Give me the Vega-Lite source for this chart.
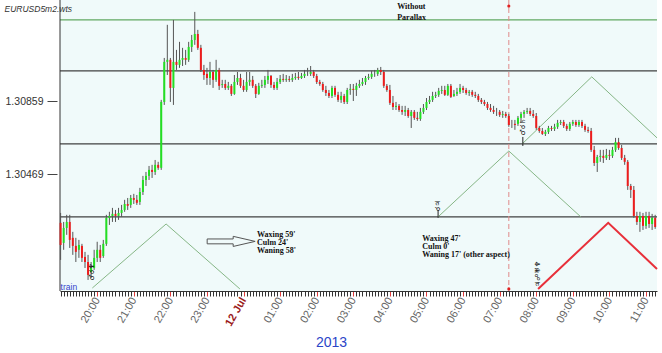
{
"$schema":"https://vega.github.io/schema/vega-lite/v6.json",
"width":597,"height":291,"autosize":"none",
"padding":{"left":60,"top":0,"right":5,"bottom":62},
"background":"white",
"config":{"view":{"fill":"#f0fafa","stroke":null},"font":"Liberation Sans"},
"datasets":{
"candles":[
{"t":"2013-07-11T19:00","o":1.30208,"h":1.30261,"l":1.30010,"c":1.30090},
{"t":"2013-07-11T19:05","o":1.30101,"h":1.30213,"l":1.30064,"c":1.30181},
{"t":"2013-07-11T19:10","o":1.30181,"h":1.30251,"l":1.30144,"c":1.30213},
{"t":"2013-07-11T19:15","o":1.30213,"h":1.30251,"l":1.30074,"c":1.30117},
{"t":"2013-07-11T19:20","o":1.30128,"h":1.30160,"l":1.30037,"c":1.30085},
{"t":"2013-07-11T19:25","o":1.30085,"h":1.30128,"l":1.29999,"c":1.30053},
{"t":"2013-07-11T19:30","o":1.30064,"h":1.30117,"l":1.30021,"c":1.30090},
{"t":"2013-07-11T19:35","o":1.30085,"h":1.30096,"l":1.29999,"c":1.30021},
{"t":"2013-07-11T19:40","o":1.30026,"h":1.30053,"l":1.29967,"c":1.29999},
{"t":"2013-07-11T19:45","o":1.29999,"h":1.30037,"l":1.29903,"c":1.29930},
{"t":"2013-07-11T19:50","o":1.29946,"h":1.29999,"l":1.29914,"c":1.29967},
{"t":"2013-07-11T19:55","o":1.29967,"h":1.30064,"l":1.29957,"c":1.30021},
{"t":"2013-07-11T20:00","o":1.30021,"h":1.30107,"l":1.29999,"c":1.30064},
{"t":"2013-07-11T20:05","o":1.30064,"h":1.30090,"l":1.29999,"c":1.30021},
{"t":"2013-07-11T20:10","o":1.30031,"h":1.30117,"l":1.30021,"c":1.30096},
{"t":"2013-07-11T20:15","o":1.30096,"h":1.30251,"l":1.30085,"c":1.30235},
{"t":"2013-07-11T20:20","o":1.30235,"h":1.30267,"l":1.30197,"c":1.30245},
{"t":"2013-07-11T20:25","o":1.30245,"h":1.30288,"l":1.30213,"c":1.30256},
{"t":"2013-07-11T20:30","o":1.30256,"h":1.30277,"l":1.30213,"c":1.30245},
{"t":"2013-07-11T20:35","o":1.30245,"h":1.30288,"l":1.30224,"c":1.30261},
{"t":"2013-07-11T20:40","o":1.30261,"h":1.30304,"l":1.30240,"c":1.30277},
{"t":"2013-07-11T20:45","o":1.30277,"h":1.30331,"l":1.30267,"c":1.30309},
{"t":"2013-07-11T20:50","o":1.30309,"h":1.30341,"l":1.30277,"c":1.30299},
{"t":"2013-07-11T20:55","o":1.30304,"h":1.30357,"l":1.30288,"c":1.30341},
{"t":"2013-07-11T21:00","o":1.30341,"h":1.30363,"l":1.30309,"c":1.30331},
{"t":"2013-07-11T21:05","o":1.30331,"h":1.30357,"l":1.30304,"c":1.30315},
{"t":"2013-07-11T21:10","o":1.30320,"h":1.30395,"l":1.30304,"c":1.30373},
{"t":"2013-07-11T21:15","o":1.30373,"h":1.30459,"l":1.30357,"c":1.30437},
{"t":"2013-07-11T21:20","o":1.30437,"h":1.30480,"l":1.30405,"c":1.30459},
{"t":"2013-07-11T21:25","o":1.30459,"h":1.30512,"l":1.30437,"c":1.30491},
{"t":"2013-07-11T21:30","o":1.30491,"h":1.30518,"l":1.30448,"c":1.30480},
{"t":"2013-07-11T21:35","o":1.30480,"h":1.30544,"l":1.30464,"c":1.30518},
{"t":"2013-07-11T21:40","o":1.30518,"h":1.30534,"l":1.30491,"c":1.30502},
{"t":"2013-07-11T21:45","o":1.30502,"h":1.30865,"l":1.30491,"c":1.30854},
{"t":"2013-07-11T21:50","o":1.30854,"h":1.31089,"l":1.30838,"c":1.31068},
{"t":"2013-07-11T21:55","o":1.31068,"h":1.31266,"l":1.30998,"c":1.31079},
{"t":"2013-07-11T22:00","o":1.31079,"h":1.31089,"l":1.30854,"c":1.30929},
{"t":"2013-07-11T22:05","o":1.30929,"h":1.31292,"l":1.30838,"c":1.31068},
{"t":"2013-07-11T22:10","o":1.31068,"h":1.31132,"l":1.31025,"c":1.31052},
{"t":"2013-07-11T22:15","o":1.31052,"h":1.31175,"l":1.31036,"c":1.31079},
{"t":"2013-07-11T22:20","o":1.31079,"h":1.31143,"l":1.31046,"c":1.31089},
{"t":"2013-07-11T22:25","o":1.31089,"h":1.31132,"l":1.31052,"c":1.31079},
{"t":"2013-07-11T22:30","o":1.31079,"h":1.31175,"l":1.31068,"c":1.31148},
{"t":"2013-07-11T22:35","o":1.31148,"h":1.31212,"l":1.31121,"c":1.31185},
{"t":"2013-07-11T22:40","o":1.31185,"h":1.31335,"l":1.31159,"c":1.31217},
{"t":"2013-07-11T22:45","o":1.31217,"h":1.31239,"l":1.31132,"c":1.31143},
{"t":"2013-07-11T22:50","o":1.31143,"h":1.31159,"l":1.31014,"c":1.31025},
{"t":"2013-07-11T22:55","o":1.31025,"h":1.31052,"l":1.30972,"c":1.30998},
{"t":"2013-07-11T23:00","o":1.31004,"h":1.31036,"l":1.30945,"c":1.30982},
{"t":"2013-07-11T23:05","o":1.30982,"h":1.31068,"l":1.30945,"c":1.31014},
{"t":"2013-07-11T23:10","o":1.31014,"h":1.31025,"l":1.30929,"c":1.30972},
{"t":"2013-07-11T23:15","o":1.30972,"h":1.31079,"l":1.30961,"c":1.31025},
{"t":"2013-07-11T23:20","o":1.31025,"h":1.31036,"l":1.30918,"c":1.30940},
{"t":"2013-07-11T23:25","o":1.30945,"h":1.30972,"l":1.30929,"c":1.30950},
{"t":"2013-07-11T23:30","o":1.30950,"h":1.30972,"l":1.30918,"c":1.30929},
{"t":"2013-07-11T23:35","o":1.30929,"h":1.30961,"l":1.30918,"c":1.30940},
{"t":"2013-07-11T23:40","o":1.30940,"h":1.30950,"l":1.30886,"c":1.30897},
{"t":"2013-07-11T23:45","o":1.30897,"h":1.30998,"l":1.30892,"c":1.30961},
{"t":"2013-07-11T23:50","o":1.30961,"h":1.31014,"l":1.30945,"c":1.30982},
{"t":"2013-07-11T23:55","o":1.30982,"h":1.31004,"l":1.30929,"c":1.30940},
{"t":"2013-07-12T00:00","o":1.30940,"h":1.30972,"l":1.30908,"c":1.30918},
{"t":"2013-07-12T00:05","o":1.30918,"h":1.31014,"l":1.30908,"c":1.30961},
{"t":"2013-07-12T00:10","o":1.30961,"h":1.31014,"l":1.30940,"c":1.30972},
{"t":"2013-07-12T00:15","o":1.30972,"h":1.30993,"l":1.30929,"c":1.30940},
{"t":"2013-07-12T00:20","o":1.30940,"h":1.30950,"l":1.30875,"c":1.30897},
{"t":"2013-07-12T00:25","o":1.30897,"h":1.30956,"l":1.30892,"c":1.30940},
{"t":"2013-07-12T00:30","o":1.30940,"h":1.30972,"l":1.30929,"c":1.30945},
{"t":"2013-07-12T00:35","o":1.30945,"h":1.30993,"l":1.30929,"c":1.30972},
{"t":"2013-07-12T00:40","o":1.30972,"h":1.31025,"l":1.30950,"c":1.30993},
{"t":"2013-07-12T00:45","o":1.30993,"h":1.30998,"l":1.30929,"c":1.30945},
{"t":"2013-07-12T00:50","o":1.30945,"h":1.30961,"l":1.30918,"c":1.30929},
{"t":"2013-07-12T00:55","o":1.30929,"h":1.30982,"l":1.30918,"c":1.30961},
{"t":"2013-07-12T01:00","o":1.30961,"h":1.30998,"l":1.30950,"c":1.30977},
{"t":"2013-07-12T01:05","o":1.30977,"h":1.31004,"l":1.30961,"c":1.30972},
{"t":"2013-07-12T01:10","o":1.30972,"h":1.30998,"l":1.30961,"c":1.30977},
{"t":"2013-07-12T01:15","o":1.30977,"h":1.30993,"l":1.30961,"c":1.30972},
{"t":"2013-07-12T01:20","o":1.30972,"h":1.31004,"l":1.30961,"c":1.30982},
{"t":"2013-07-12T01:25","o":1.30982,"h":1.31009,"l":1.30972,"c":1.30988},
{"t":"2013-07-12T01:30","o":1.30988,"h":1.31014,"l":1.30972,"c":1.30982},
{"t":"2013-07-12T01:35","o":1.30982,"h":1.31009,"l":1.30977,"c":1.30993},
{"t":"2013-07-12T01:40","o":1.30993,"h":1.31025,"l":1.30982,"c":1.31004},
{"t":"2013-07-12T01:45","o":1.31004,"h":1.31036,"l":1.30993,"c":1.31004},
{"t":"2013-07-12T01:50","o":1.31004,"h":1.31046,"l":1.30993,"c":1.31014},
{"t":"2013-07-12T01:55","o":1.31014,"h":1.31025,"l":1.30982,"c":1.30993},
{"t":"2013-07-12T02:00","o":1.30993,"h":1.31004,"l":1.30950,"c":1.30961},
{"t":"2013-07-12T02:05","o":1.30961,"h":1.30972,"l":1.30940,"c":1.30950},
{"t":"2013-07-12T02:10","o":1.30950,"h":1.30961,"l":1.30908,"c":1.30918},
{"t":"2013-07-12T02:15","o":1.30918,"h":1.30940,"l":1.30886,"c":1.30902},
{"t":"2013-07-12T02:20","o":1.30902,"h":1.30918,"l":1.30875,"c":1.30886},
{"t":"2013-07-12T02:25","o":1.30886,"h":1.30940,"l":1.30875,"c":1.30929},
{"t":"2013-07-12T02:30","o":1.30929,"h":1.30940,"l":1.30881,"c":1.30892},
{"t":"2013-07-12T02:35","o":1.30892,"h":1.30908,"l":1.30854,"c":1.30865},
{"t":"2013-07-12T02:40","o":1.30865,"h":1.30908,"l":1.30849,"c":1.30886},
{"t":"2013-07-12T02:45","o":1.30886,"h":1.30897,"l":1.30843,"c":1.30854},
{"t":"2013-07-12T02:50","o":1.30854,"h":1.30929,"l":1.30843,"c":1.30918},
{"t":"2013-07-12T02:55","o":1.30918,"h":1.30950,"l":1.30892,"c":1.30924},
{"t":"2013-07-12T03:00","o":1.30924,"h":1.30950,"l":1.30859,"c":1.30918},
{"t":"2013-07-12T03:05","o":1.30918,"h":1.30956,"l":1.30886,"c":1.30940},
{"t":"2013-07-12T03:10","o":1.30940,"h":1.30972,"l":1.30929,"c":1.30950},
{"t":"2013-07-12T03:15","o":1.30950,"h":1.30982,"l":1.30940,"c":1.30961},
{"t":"2013-07-12T03:20","o":1.30961,"h":1.30993,"l":1.30945,"c":1.30982},
{"t":"2013-07-12T03:25","o":1.30982,"h":1.31004,"l":1.30972,"c":1.30988},
{"t":"2013-07-12T03:30","o":1.30988,"h":1.31020,"l":1.30977,"c":1.31004},
{"t":"2013-07-12T03:35","o":1.31004,"h":1.31025,"l":1.30988,"c":1.31004},
{"t":"2013-07-12T03:40","o":1.31004,"h":1.31036,"l":1.30993,"c":1.31025},
{"t":"2013-07-12T03:45","o":1.31025,"h":1.31041,"l":1.30998,"c":1.31014},
{"t":"2013-07-12T03:50","o":1.31014,"h":1.31025,"l":1.30929,"c":1.30940},
{"t":"2013-07-12T03:55","o":1.30940,"h":1.30950,"l":1.30908,"c":1.30918},
{"t":"2013-07-12T04:00","o":1.30918,"h":1.30945,"l":1.30838,"c":1.30849},
{"t":"2013-07-12T04:05","o":1.30849,"h":1.30886,"l":1.30811,"c":1.30827},
{"t":"2013-07-12T04:10","o":1.30827,"h":1.30854,"l":1.30811,"c":1.30833},
{"t":"2013-07-12T04:15","o":1.30833,"h":1.30843,"l":1.30801,"c":1.30811},
{"t":"2013-07-12T04:20","o":1.30811,"h":1.30833,"l":1.30785,"c":1.30801},
{"t":"2013-07-12T04:25","o":1.30801,"h":1.30833,"l":1.30779,"c":1.30811},
{"t":"2013-07-12T04:30","o":1.30811,"h":1.30822,"l":1.30769,"c":1.30779},
{"t":"2013-07-12T04:35","o":1.30779,"h":1.30811,"l":1.30715,"c":1.30801},
{"t":"2013-07-12T04:40","o":1.30801,"h":1.30811,"l":1.30758,"c":1.30769},
{"t":"2013-07-12T04:45","o":1.30769,"h":1.30801,"l":1.30753,"c":1.30763},
{"t":"2013-07-12T04:50","o":1.30763,"h":1.30822,"l":1.30753,"c":1.30801},
{"t":"2013-07-12T04:55","o":1.30801,"h":1.30843,"l":1.30790,"c":1.30822},
{"t":"2013-07-12T05:00","o":1.30822,"h":1.30875,"l":1.30811,"c":1.30854},
{"t":"2013-07-12T05:05","o":1.30854,"h":1.30886,"l":1.30843,"c":1.30865},
{"t":"2013-07-12T05:10","o":1.30865,"h":1.30908,"l":1.30854,"c":1.30886},
{"t":"2013-07-12T05:15","o":1.30886,"h":1.30908,"l":1.30875,"c":1.30892},
{"t":"2013-07-12T05:20","o":1.30892,"h":1.30929,"l":1.30881,"c":1.30913},
{"t":"2013-07-12T05:25","o":1.30913,"h":1.30940,"l":1.30897,"c":1.30918},
{"t":"2013-07-12T05:30","o":1.30918,"h":1.30940,"l":1.30886,"c":1.30892},
{"t":"2013-07-12T05:35","o":1.30892,"h":1.30950,"l":1.30886,"c":1.30940},
{"t":"2013-07-12T05:40","o":1.30940,"h":1.30950,"l":1.30875,"c":1.30881},
{"t":"2013-07-12T05:45","o":1.30886,"h":1.30918,"l":1.30881,"c":1.30897},
{"t":"2013-07-12T05:50","o":1.30897,"h":1.30929,"l":1.30886,"c":1.30908},
{"t":"2013-07-12T05:55","o":1.30908,"h":1.30950,"l":1.30897,"c":1.30929},
{"t":"2013-07-12T06:00","o":1.30929,"h":1.30940,"l":1.30902,"c":1.30918},
{"t":"2013-07-12T06:05","o":1.30918,"h":1.30929,"l":1.30892,"c":1.30902},
{"t":"2013-07-12T06:10","o":1.30902,"h":1.30918,"l":1.30886,"c":1.30908},
{"t":"2013-07-12T06:15","o":1.30908,"h":1.30918,"l":1.30881,"c":1.30892},
{"t":"2013-07-12T06:20","o":1.30892,"h":1.30908,"l":1.30875,"c":1.30886},
{"t":"2013-07-12T06:25","o":1.30886,"h":1.30897,"l":1.30854,"c":1.30865},
{"t":"2013-07-12T06:30","o":1.30865,"h":1.30875,"l":1.30843,"c":1.30854},
{"t":"2013-07-12T06:35","o":1.30854,"h":1.30865,"l":1.30833,"c":1.30843},
{"t":"2013-07-12T06:40","o":1.30843,"h":1.30854,"l":1.30811,"c":1.30822},
{"t":"2013-07-12T06:45","o":1.30822,"h":1.30843,"l":1.30801,"c":1.30811},
{"t":"2013-07-12T06:50","o":1.30811,"h":1.30833,"l":1.30790,"c":1.30801},
{"t":"2013-07-12T06:55","o":1.30801,"h":1.30822,"l":1.30779,"c":1.30801},
{"t":"2013-07-12T07:00","o":1.30801,"h":1.30811,"l":1.30774,"c":1.30785},
{"t":"2013-07-12T07:05","o":1.30785,"h":1.30806,"l":1.30769,"c":1.30790},
{"t":"2013-07-12T07:10","o":1.30790,"h":1.30801,"l":1.30769,"c":1.30779},
{"t":"2013-07-12T07:15","o":1.30779,"h":1.30790,"l":1.30721,"c":1.30731},
{"t":"2013-07-12T07:20","o":1.30737,"h":1.30758,"l":1.30715,"c":1.30737},
{"t":"2013-07-12T07:25","o":1.30737,"h":1.30758,"l":1.30705,"c":1.30731},
{"t":"2013-07-12T07:30","o":1.30737,"h":1.30779,"l":1.30726,"c":1.30769},
{"t":"2013-07-12T07:35","o":1.30769,"h":1.30801,"l":1.30747,"c":1.30790},
{"t":"2013-07-12T07:40","o":1.30790,"h":1.30811,"l":1.30769,"c":1.30801},
{"t":"2013-07-12T07:45","o":1.30801,"h":1.30822,"l":1.30790,"c":1.30806},
{"t":"2013-07-12T07:50","o":1.30806,"h":1.30822,"l":1.30779,"c":1.30790},
{"t":"2013-07-12T07:55","o":1.30790,"h":1.30811,"l":1.30769,"c":1.30779},
{"t":"2013-07-12T08:00","o":1.30779,"h":1.30795,"l":1.30705,"c":1.30715},
{"t":"2013-07-12T08:05","o":1.30715,"h":1.30726,"l":1.30689,"c":1.30699},
{"t":"2013-07-12T08:10","o":1.30699,"h":1.30715,"l":1.30678,"c":1.30683},
{"t":"2013-07-12T08:15","o":1.30683,"h":1.30705,"l":1.30672,"c":1.30694},
{"t":"2013-07-12T08:20","o":1.30694,"h":1.30726,"l":1.30683,"c":1.30715},
{"t":"2013-07-12T08:25","o":1.30715,"h":1.30726,"l":1.30699,"c":1.30710},
{"t":"2013-07-12T08:30","o":1.30710,"h":1.30737,"l":1.30699,"c":1.30721},
{"t":"2013-07-12T08:35","o":1.30721,"h":1.30758,"l":1.30710,"c":1.30742},
{"t":"2013-07-12T08:40","o":1.30742,"h":1.30758,"l":1.30731,"c":1.30747},
{"t":"2013-07-12T08:45","o":1.30747,"h":1.30758,"l":1.30715,"c":1.30726},
{"t":"2013-07-12T08:50","o":1.30726,"h":1.30737,"l":1.30699,"c":1.30710},
{"t":"2013-07-12T08:55","o":1.30710,"h":1.30747,"l":1.30699,"c":1.30737},
{"t":"2013-07-12T09:00","o":1.30737,"h":1.30758,"l":1.30726,"c":1.30747},
{"t":"2013-07-12T09:05","o":1.30747,"h":1.30758,"l":1.30721,"c":1.30731},
{"t":"2013-07-12T09:10","o":1.30731,"h":1.30758,"l":1.30721,"c":1.30747},
{"t":"2013-07-12T09:15","o":1.30747,"h":1.30758,"l":1.30715,"c":1.30726},
{"t":"2013-07-12T09:20","o":1.30726,"h":1.30737,"l":1.30694,"c":1.30705},
{"t":"2013-07-12T09:25","o":1.30705,"h":1.30721,"l":1.30689,"c":1.30699},
{"t":"2013-07-12T09:30","o":1.30699,"h":1.30715,"l":1.30587,"c":1.30598},
{"t":"2013-07-12T09:35","o":1.30598,"h":1.30619,"l":1.30512,"c":1.30528},
{"t":"2013-07-12T09:40","o":1.30528,"h":1.30571,"l":1.30480,"c":1.30560},
{"t":"2013-07-12T09:45","o":1.30560,"h":1.30598,"l":1.30534,"c":1.30566},
{"t":"2013-07-12T09:50","o":1.30566,"h":1.30598,"l":1.30528,"c":1.30555},
{"t":"2013-07-12T09:55","o":1.30555,"h":1.30603,"l":1.30544,"c":1.30571},
{"t":"2013-07-12T10:00","o":1.30571,"h":1.30598,"l":1.30544,"c":1.30566},
{"t":"2013-07-12T10:05","o":1.30566,"h":1.30614,"l":1.30555,"c":1.30598},
{"t":"2013-07-12T10:10","o":1.30598,"h":1.30662,"l":1.30587,"c":1.30640},
{"t":"2013-07-12T10:15","o":1.30640,"h":1.30662,"l":1.30598,"c":1.30608},
{"t":"2013-07-12T10:20","o":1.30608,"h":1.30624,"l":1.30544,"c":1.30555},
{"t":"2013-07-12T10:25","o":1.30555,"h":1.30571,"l":1.30518,"c":1.30534},
{"t":"2013-07-12T10:30","o":1.30534,"h":1.30544,"l":1.30384,"c":1.30405},
{"t":"2013-07-12T10:35","o":1.30405,"h":1.30416,"l":1.30341,"c":1.30384},
{"t":"2013-07-12T10:40","o":1.30384,"h":1.30405,"l":1.30235,"c":1.30245},
{"t":"2013-07-12T10:45","o":1.30245,"h":1.30267,"l":1.30197,"c":1.30213},
{"t":"2013-07-12T10:50","o":1.30213,"h":1.30267,"l":1.30160,"c":1.30245},
{"t":"2013-07-12T10:55","o":1.30245,"h":1.30261,"l":1.30170,"c":1.30192},
{"t":"2013-07-12T11:00","o":1.30192,"h":1.30267,"l":1.30176,"c":1.30245},
{"t":"2013-07-12T11:05","o":1.30245,"h":1.30267,"l":1.30181,"c":1.30202},
{"t":"2013-07-12T11:10","o":1.30202,"h":1.30256,"l":1.30170,"c":1.30235},
{"t":"2013-07-12T11:15","o":1.30235,"h":1.30251,"l":1.30176,"c":1.30186}
],
"levels":[{"p":1.31292,"k":"a"},{"p":1.31020,"k":"b"},{"p":1.30630,"k":"b"},{"p":1.30240,"k":"b"}],
"zig":[
{"g":"z1","t":"2013-07-11T19:52","p":1.29860},{"g":"z1","t":"2013-07-11T21:53","p":1.30202},{"g":"z1","t":"2013-07-11T23:54","p":1.29855},
{"g":"z2","t":"2013-07-12T05:19","p":1.30240},{"g":"z2","t":"2013-07-12T07:15","p":1.30592},{"g":"z2","t":"2013-07-12T09:13","p":1.30240},
{"g":"z3","t":"2013-07-12T07:37","p":1.30630},{"g":"z3","t":"2013-07-12T09:31","p":1.30988},{"g":"z3","t":"2013-07-12T11:18","p":1.30662}
],
"zigr":[{"t":"2013-07-12T08:03","p":1.29855},{"t":"2013-07-12T09:58","p":1.30208},{"t":"2013-07-12T11:18","p":1.29962}],
"vline":[{"t":"2013-07-12T07:15"}],
"border":[{"t":"2013-07-11T18:59"}],
"dots":[{"t":"2013-07-12T07:15","p":1.31366},{"t":"2013-07-12T07:15","p":1.29855}],
"notes":[
{"t":"2013-07-12T04:12","p":1.31362,"s":"Without"},
{"t":"2013-07-12T04:12","p":1.31303,"s":"Parallax"},
{"t":"2013-07-12T00:22","p":1.30144,"s":"Waxing 59'"},
{"t":"2013-07-12T00:22","p":1.30101,"s":"Culm 24'"},
{"t":"2013-07-12T00:22","p":1.30058,"s":"Waning 58'"},
{"t":"2013-07-12T04:53","p":1.30122,"s":"Waxing 47'"},
{"t":"2013-07-12T04:53","p":1.30080,"s":"Culm 0'"},
{"t":"2013-07-12T04:53","p":1.30037,"s":"Waning 17' (other aspect)"}
],
"train":[{"t":"2013-07-11T19:00","p":1.29866,"s":"train"}],
"glyphs":[
{"t":"2013-07-11T19:52","p":1.29946,"s":"♂☌♆"},
{"t":"2013-07-12T05:19","p":1.30299,"s":"☌♃"},
{"t":"2013-07-12T07:38","p":1.30721,"s":"♂☌♄"},
{"t":"2013-07-12T08:03","p":1.29935,"s":"♃☍♅♆"}
],
"gticks":[
{"t":"2013-07-12T05:19","a":1.30277,"b":1.30235},
{"t":"2013-07-12T07:38","a":1.30667,"b":1.30619}
],
"arrow":[
{"n":0,"t":"2013-07-11T23:00:20","p":1.30122},
{"n":1,"t":"2013-07-11T23:43:00","p":1.30122},
{"n":2,"t":"2013-07-11T23:43:00","p":1.30136},
{"n":3,"t":"2013-07-12T00:19:00","p":1.30109},
{"n":4,"t":"2013-07-11T23:43:00","p":1.30082},
{"n":5,"t":"2013-07-11T23:43:00","p":1.30096},
{"n":6,"t":"2013-07-11T23:00:20","p":1.30096},
{"n":7,"t":"2013-07-11T23:00:20","p":1.30122}
]
},
"layer":[
{"data":{"name":"levels"},"mark":{"type":"rule","strokeWidth":1.3},
 "encoding":{"y":{"field":"p","type":"quantitative","scale":{"domain":[1.29844,1.313986],"nice":false,"zero":false},
   "axis":{"orient":"left","values":[1.30859,1.30469],"format":".5f","offset":3,"domain":false,"grid":false,"tickSize":10,"tickColor":"#444444","labelColor":"#333333","labelFontSize":10.5,"labelPadding":4,
   "title":"EURUSD5m2.wts","titleAngle":0,"titleX":-53,"titleY":8,"titleAlign":"left","titleBaseline":"middle","titleFontSize":8.5,"titleFontStyle":"italic","titleFontWeight":"normal","titleColor":"#333333"}},
  "color":{"field":"k","type":"nominal","scale":{"domain":["a","b"],"range":["#62a862","#404040"]},"legend":null}}},
{"data":{"name":"zig"},"mark":{"type":"line","strokeWidth":1,"color":"#86b686"},
 "encoding":{"x":{"field":"t","type":"temporal","scale":{"domain":["2013-07-11T18:59:00","2013-07-12T11:18:00"],"nice":false,"padding":0},
   "axis":{"orient":"bottom","tickCount":196,
   "labelExpr":"(minutes(datum.value)!=0 || hours(datum.value)==19) ? '' : (hours(datum.value)==0 ? '12 Jul' : timeFormat(datum.value,'%H:%M'))",
   "labelAngle":-60,"labelAlign":"right","labelBaseline":"middle","labelFontSize":11,"labelPadding":2,
   "labelColor":{"condition":{"test":"hours(datum.value)==0","value":"#9b1b1b"},"value":"#666666"},
   "labelFontWeight":{"condition":{"test":"hours(datum.value)==0","value":"bold"},"value":"normal"},
   "labelOverlap":false,"labelFlush":false,"labelBound":false,
   "tickSize":5,"tickColor":{"condition":{"test":"minutes(datum.value)==0 && hours(datum.value)!=19","value":"#e03c3c"},"value":"#333333"},
   "domain":true,"domainColor":"#333333","grid":false,
   "title":"2013","titleX":271,"titleY":51,"titleFontSize":14,"titleFontWeight":"normal","titleColor":"#2b45c8","titleBaseline":"middle","titleAlign":"center"}},
  "y":{"field":"p","type":"quantitative"},
  "detail":{"field":"g","type":"nominal"}}},
{"data":{"name":"zigr"},"mark":{"type":"line","strokeWidth":2,"color":"#e8303a"},
 "encoding":{"x":{"field":"t","type":"temporal"},"y":{"field":"p","type":"quantitative"}}},
{"data":{"name":"border"},"mark":{"type":"rule","color":"#333333","strokeWidth":1},
 "encoding":{"x":{"field":"t","type":"temporal"}}},
{"data":{"name":"vline"},"mark":{"type":"rule","color":"#e08a8a","strokeDash":[5,3],"strokeWidth":1},
 "encoding":{"x":{"field":"t","type":"temporal"}}},
{"data":{"name":"dots"},"mark":{"type":"point","filled":true,"color":"#e02020","size":10,"opacity":1},
 "encoding":{"x":{"field":"t","type":"temporal"},"y":{"field":"p","type":"quantitative"}}},
{"data":{"name":"candles"},"mark":{"type":"rule","color":"#555555","strokeWidth":1},
 "encoding":{"x":{"field":"t","type":"temporal"},"y":{"field":"l","type":"quantitative"},"y2":{"field":"h"}}},
{"data":{"name":"candles"},"mark":{"type":"bar","width":2},
 "encoding":{"x":{"field":"t","type":"temporal"},"y":{"field":"o","type":"quantitative"},"y2":{"field":"c"},
  "color":{"condition":[{"test":"datum.c > datum.o","value":"#22e022"},{"test":"datum.c < datum.o","value":"#ee1c1c"}],"value":"#777777"}}},
{"data":{"name":"gticks"},"mark":{"type":"rule","color":"#222222","strokeWidth":1},
 "encoding":{"x":{"field":"t","type":"temporal"},"y":{"field":"a","type":"quantitative"},"y2":{"field":"b"}}},
{"data":{"name":"glyphs"},"mark":{"type":"text","angle":270,"fontSize":7,"font":"DejaVu Sans","color":"#111111","align":"center","baseline":"middle"},
 "encoding":{"x":{"field":"t","type":"temporal"},"y":{"field":"p","type":"quantitative"},"text":{"field":"s"}}},
{"data":{"name":"arrow"},"mark":{"type":"line","color":"#555555","strokeWidth":1},
 "encoding":{"x":{"field":"t","type":"temporal"},"y":{"field":"p","type":"quantitative"},"order":{"field":"n","type":"quantitative"}}},
{"data":{"name":"notes"},"mark":{"type":"text","align":"left","baseline":"middle","font":"Liberation Serif","fontWeight":"bold","fontSize":8,"color":"#111111"},
 "encoding":{"x":{"field":"t","type":"temporal"},"y":{"field":"p","type":"quantitative"},"text":{"field":"s"}}},
{"data":{"name":"train"},"mark":{"type":"text","align":"left","baseline":"middle","fontSize":8.5,"color":"#3344cc"},
 "encoding":{"x":{"field":"t","type":"temporal"},"y":{"field":"p","type":"quantitative"},"text":{"field":"s"}}}
]
}
